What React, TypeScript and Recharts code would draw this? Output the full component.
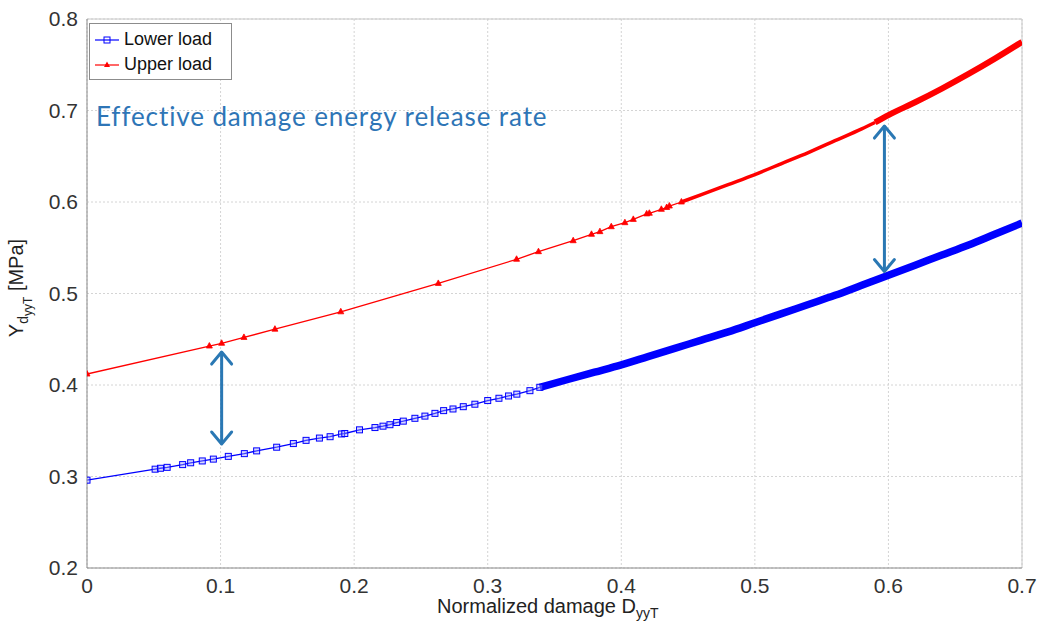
import React from 'react'
import { LineChart, Line, XAxis, YAxis, CartesianGrid, ReferenceLine } from 'recharts'

// marker positions (damage, Y [MPa])
const lowerX = [0, 0.051, 0.055, 0.06, 0.0716, 0.0776, 0.0863, 0.0946, 0.1058, 0.1178, 0.127, 0.142, 0.1545, 0.164, 0.174, 0.182, 0.1906, 0.193, 0.204, 0.2156, 0.2216, 0.2268, 0.2318, 0.2368, 0.2455, 0.253, 0.2605, 0.267, 0.274, 0.2817, 0.2904, 0.3, 0.3084, 0.3156, 0.3218, 0.3316, 0.339]
const lowerY = [0.296, 0.308, 0.309, 0.31, 0.313, 0.315, 0.317, 0.319, 0.322, 0.325, 0.328, 0.332, 0.336, 0.3395, 0.342, 0.3435, 0.3465, 0.347, 0.351, 0.3535, 0.355, 0.3566, 0.359, 0.3605, 0.3636, 0.366, 0.369, 0.372, 0.3738, 0.3763, 0.379, 0.383, 0.3855, 0.388, 0.39, 0.3938, 0.3975]

// where the markers pile up into a solid band
const lowerDenseX = [0.339, 0.36, 0.38, 0.4, 0.42, 0.44, 0.46, 0.48, 0.5, 0.52, 0.54, 0.56, 0.58, 0.6, 0.62, 0.64, 0.66, 0.68, 0.7]
const lowerDenseY = [0.3975, 0.406, 0.414, 0.422, 0.431, 0.44, 0.449, 0.458, 0.468, 0.478, 0.488, 0.498, 0.509, 0.52, 0.531, 0.542, 0.553, 0.565, 0.577]

const upperX = [0, 0.0916, 0.1008, 0.1175, 0.1407, 0.19, 0.263, 0.3216, 0.338, 0.364, 0.3777, 0.384, 0.3925, 0.4027, 0.409, 0.419, 0.421, 0.43, 0.434, 0.436, 0.445]
const upperY = [0.412, 0.4426, 0.4456, 0.452, 0.461, 0.48, 0.511, 0.5374, 0.5457, 0.5577, 0.5647, 0.5676, 0.573, 0.5774, 0.581, 0.587, 0.5877, 0.592, 0.594, 0.5956, 0.6]

const upperMidX = [0.445, 0.46, 0.48, 0.5, 0.52, 0.54, 0.56, 0.58, 0.59]
const upperMidY = [0.6, 0.608, 0.619, 0.63, 0.642, 0.654, 0.667, 0.68, 0.687]

const upperDenseX = [0.59, 0.6, 0.62, 0.64, 0.66, 0.68, 0.7]
const upperDenseY = [0.687, 0.695, 0.709, 0.724, 0.74, 0.757, 0.775]

const xTicks = [0, 0.1, 0.2, 0.3, 0.4, 0.5, 0.6, 0.7]
const yTicks = [0.2, 0.3, 0.4, 0.5, 0.6, 0.7, 0.8]

// double arrows: [x, yTop, yBottom]
const arrows = [
  [0.1008, 0.436, 0.3355],
  [0.597, 0.683, 0.524],
]

const zip = (xs: number[], ys: number[]) => xs.map((x, i) => ({ x, y: ys[i] }))

const lower = zip(lowerX, lowerY)
const lowerDense = zip(lowerDenseX, lowerDenseY)
const upper = zip(upperX, upperY)
const upperMid = zip(upperMidX, upperMidY)
const upperDense = zip(upperDenseX, upperDenseY)

const BLUE = '#0000ff'
const RED = '#ff0000'
const ARROW = '#2a78b4'
const FONT = '"Liberation Sans", Arial, sans-serif'

const Square = (p: any) => (
  <rect key={p.index} x={p.cx - 3} y={p.cy - 3} width={6} height={6} fill="#9a9aff" fillOpacity={0.4} stroke={BLUE} strokeWidth={1} />
)

const Tri = (p: any) => (
  <path key={p.index} d={`M${p.cx},${p.cy - 3.5} L${p.cx + 3},${p.cy + 2} L${p.cx - 3},${p.cy + 2} Z`} fill={RED} stroke={RED} strokeWidth={0.8} />
)

const ArrowShape = (p: any) => {
  const { x1, y1, x2, y2 } = p
  const top = Math.min(y1, y2)
  const bot = Math.max(y1, y2)
  const w = 10
  const h = 12
  return (
    <g stroke={ARROW} strokeWidth={3} fill="none" strokeLinecap="round" strokeLinejoin="round">
      <line x1={x1} y1={top + 1} x2={x2} y2={bot - 1} />
      <path d={`M${x1 - w},${top + h} L${x1},${top} L${x1 + w},${top + h}`} />
      <path d={`M${x1 - w},${bot - h} L${x1},${bot} L${x1 + w},${bot - h}`} />
    </g>
  )
}

const LegendBox = () => (
  <div style={{ position: 'absolute', left: 89, top: 23, border: '1px solid #8c8c8c', background: '#fff', width: 141, height: 55, fontFamily: FONT, fontSize: 18, color: '#111' }}>
    {[['Lower load', BLUE, 'sq'], ['Upper load', RED, 'tri']].map(([name, col, m]) => (
      <div key={name} style={{ display: 'flex', alignItems: 'center', height: 25, marginTop: name === 'Lower load' ? 3 : 0 }}>
        <svg width={34} height={20}>
          <line x1={5} y1={10} x2={29} y2={10} stroke={col} strokeWidth={1.2} />
          {m === 'sq'
            ? <rect x={14} y={7} width={6} height={6} fill="none" stroke={col} />
            : <path d="M17,6.5 L20,12 L14,12 Z" fill={col} />}
        </svg>
        <span>{name}</span>
      </div>
    ))}
  </div>
)

export default function App() {
  return (
    <div style={{ position: 'absolute', left: 0, top: 0, width: 1041, height: 627, background: '#fff' }}>
      <LineChart width={1041} height={627} margin={{ top: 19, right: 19, bottom: 29, left: 27 }}>
        <CartesianGrid stroke="#d4d4d4" strokeDasharray="2 2" horizontalValues={yTicks} verticalValues={xTicks} />
        <XAxis
          type="number"
          dataKey="x"
          domain={[0, 0.7]}
          ticks={xTicks}
          allowDataOverflow
          height={30}
          stroke="#8a8a8a"
          tickLine={false}
          tickMargin={4}
          tick={{ fontSize: 21, fill: '#333', fontFamily: FONT }}
          tickFormatter={(v: number) => (v === 0 ? '0' : v.toFixed(1))}
        />
        <YAxis
          type="number"
          dataKey="y"
          domain={[0.2, 0.8]}
          ticks={yTicks}
          allowDataOverflow
          width={60}
          stroke="#8a8a8a"
          tickLine={false}
          tickMargin={3}
          tick={{ fontSize: 21, fill: '#333', fontFamily: FONT }}
          tickFormatter={(v: number) => v.toFixed(1)}
        />
        <ReferenceLine y={0.8} stroke="#c8c8c8" />
        <ReferenceLine x={0.7} stroke="#c8c8c8" />

        <Line data={lowerDense} dataKey="y" type="monotone" stroke={BLUE} strokeWidth={7.5} dot={false} isAnimationActive={false} />
        <Line data={lower} dataKey="y" type="linear" stroke={BLUE} strokeWidth={1.3} dot={Square} isAnimationActive={false} name="Lower load" />

        <Line data={upperMid} dataKey="y" type="monotone" stroke={RED} strokeWidth={3.5} dot={false} isAnimationActive={false} />
        <Line data={upperDense} dataKey="y" type="monotone" stroke={RED} strokeWidth={6} dot={false} isAnimationActive={false} />
        <Line data={upper} dataKey="y" type="linear" stroke={RED} strokeWidth={1.3} dot={Tri} isAnimationActive={false} name="Upper load" />

        {arrows.map(([x, a, b], i) => (
          <ReferenceLine key={i} segment={[{ x, y: a }, { x, y: b }]} shape={ArrowShape} />
        ))}
      </LineChart>

      <LegendBox />

      <div style={{ position: 'absolute', left: 96, top: 103, lineHeight: '26px', fontFamily: 'Lato, "Open Sans", sans-serif', fontSize: 26, letterSpacing: 0.9, color: '#2e75b6', whiteSpace: 'nowrap' }}>
        Effective damage energy release rate
      </div>

      <div style={{ position: 'absolute', left: 437, top: 596, lineHeight: '20px', fontFamily: FONT, fontSize: 20, color: '#222', whiteSpace: 'nowrap' }}>
        Normalized damage D<sub style={{ fontSize: 14, lineHeight: 0 }}>yyT</sub>
      </div>

      <div style={{ position: 'absolute', left: 20, top: 288, transform: 'translate(-50%, -50%) rotate(-90deg)', fontFamily: FONT, fontSize: 20, color: '#222', whiteSpace: 'nowrap' }}>
        Y<sub style={{ fontSize: 14 }}>d<sub style={{ fontSize: 12 }}>yyT</sub></sub> [MPa]
      </div>
    </div>
  )
}
